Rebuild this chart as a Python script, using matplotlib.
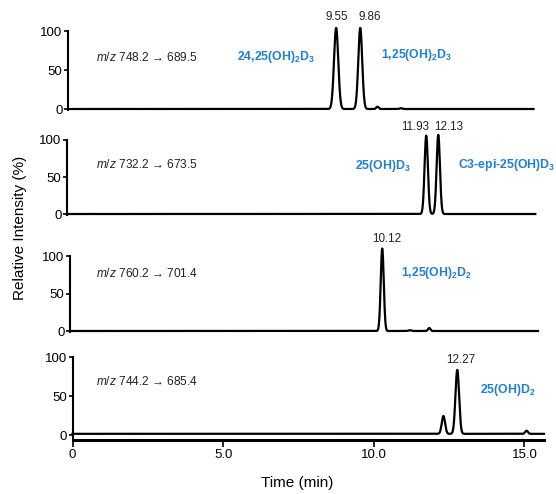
import numpy as np
import matplotlib
matplotlib.use("Agg")
import matplotlib.pyplot as plt

plt.rcParams['font.family'] = ['Liberation Sans', 'DejaVu Sans']
plt.rcParams['mathtext.fontset'] = 'custom'
plt.rcParams['mathtext.rm'] = 'Liberation Sans'
plt.rcParams['mathtext.it'] = 'Liberation Sans:italic'
plt.rcParams['mathtext.bf'] = 'Liberation Sans:bold'

# ---- data ----
transitions = [r"$\it{m/z}$ 748.2 → 689.5", r"$\it{m/z}$ 732.2 → 673.5",
               r"$\it{m/z}$ 760.2 → 701.4", r"$\it{m/z}$ 744.2 → 685.4"]
# peak centres (min, on the common time axis), heights (%), widths (min)
p1_centres = [8.75, 9.55, 10.12, 10.90]
p1_heights = [104, 104, 3, 1]
p1_widths = [0.07, 0.065, 0.04, 0.04]
p2_centres = [11.74, 12.14]
p2_heights = [106, 107]
p2_widths = [0.055, 0.055]
p3_centres = [10.28, 11.84, 11.20]
p3_heights = [110, 4, 1]
p3_widths = [0.05, 0.04, 0.05]
p4_centres = [12.31, 12.77, 15.07]
p4_heights = [23, 82, 4]
p4_widths = [0.055, 0.06, 0.045]
baselines = [0.0, 0.0, 0.0, 1.5]
trace_ends = [15.3, 15.36, 15.45, 15.65]

peak_labels = [["9.55", "9.86"], ["11.93", "12.13"], ["10.12"], ["12.27"]]
compound_labels = [["24,25(OH)$_\\mathbf{2}$D$_\\mathbf{3}$", "1,25(OH)$_\\mathbf{2}$D$_\\mathbf{3}$"],
                   ["25(OH)D$_\\mathbf{3}$", "C3-epi-25(OH)D$_\\mathbf{3}$"],
                   ["1,25(OH)$_\\mathbf{2}$D$_\\mathbf{2}$"],
                   ["25(OH)D$_\\mathbf{2}$"]]
x_ticks = [0, 5, 10, 15]
x_ticklabels = ["0", "5.0", "10.0", "15.0"]
y_ticks = [0, 50, 100]

centres = [p1_centres, p2_centres, p3_centres, p4_centres]
heights = [p1_heights, p2_heights, p3_heights, p4_heights]
widths = [p1_widths, p2_widths, p3_widths, p4_widths]

# ---- layout (pixels) ----
W, H = 556, 494
fig = plt.figure(figsize=(W / 100, H / 100), dpi=100)
x0_px, px_per_min, right_px = 72.5, 30.13, 544
lefts = [68, 67, 70, 72.5]
y100 = [31, 140, 256, 357]
y0 = [109, 214, 331, 435]
ymins = [-1, -1, -1, -7]
blue = "#1f7ed6"

# label positions in pixels
peak_lab_pos = [[(337, 17), (370, 17)], [(415, 127), (449, 127)], [(387, 239)], [(461, 360)]]
comp_lab_pos = [[(237, 57), (381, 55)], [(355, 166), (458, 165)], [(401, 273)], [(480, 390)]]
mz_pos = [(96, 57), (96, 164), (96, 273), (96, 381)]

axes = []
for i in range(4):
    unit = (y0[i] - y100[i]) / 100.0
    bottom_px = y0[i] - ymins[i] * unit
    rect = [lefts[i] / W, 1 - bottom_px / H, (right_px - lefts[i]) / W, (bottom_px - y100[i]) / H]
    ax = fig.add_axes(rect)
    xmin = (lefts[i] - x0_px) / px_per_min
    xmax = (right_px - x0_px) / px_per_min
    ax.set_xlim(xmin, xmax)
    ax.set_ylim(ymins[i], 100)
    ax.patch.set_alpha(0)
    for s in ['top', 'right']:
        ax.spines[s].set_visible(False)
    ax.spines['left'].set_linewidth(1.5)
    ax.set_yticks(y_ticks)
    ax.set_yticklabels([str(v) for v in y_ticks])
    ax.tick_params(axis='y', direction='out', length=3, width=1.2, labelsize=9.5, pad=1)
    if i < 3:
        ax.spines['bottom'].set_visible(False)
        ax.set_xticks([])
    else:
        ax.spines['bottom'].set_linewidth(2.2)
        ax.set_xticks(x_ticks)
        ax.set_xticklabels(x_ticklabels)
        ax.tick_params(axis='x', direction='out', length=5, width=1.2, labelsize=9.5, pad=1)

    t = np.linspace(xmin, trace_ends[i], 4000)
    y = np.full_like(t, baselines[i])
    for c, h, w in zip(centres[i], heights[i], widths[i]):
        y = y + h * np.exp(-0.5 * ((t - c) / w) ** 2)
    ax.plot(t, y, color='black', lw=1.6, clip_on=False, solid_joinstyle='round')
    axes.append(ax)

fig.canvas.draw()
for i, ax in enumerate(axes):
    inv = ax.transData.inverted()
    for (px, py), lab in zip(peak_lab_pos[i], peak_labels[i]):
        xd, yd = inv.transform((px, H - py))
        ax.text(xd, yd, lab, ha='center', va='center', fontsize=8.4, color='#222222', clip_on=False)
    for (px, py), lab in zip(comp_lab_pos[i], compound_labels[i]):
        xd, yd = inv.transform((px, H - py))
        ax.text(xd, yd, lab, ha='left', va='center', fontsize=8.8, fontweight='bold', color=blue, clip_on=False)
    px, py = mz_pos[i]
    xd, yd = inv.transform((px, H - py))
    ax.text(xd, yd, transitions[i], ha='left', va='center', fontsize=8.6, color='#222222', clip_on=False)

fig.text(20 / W, 1 - 228 / H, "Relative Intensity (%)", rotation=90, ha='center', va='center', fontsize=11)
fig.text(297 / W, 1 - 483 / H, "Time (min)", ha='center', va='center', fontsize=11)

fig.savefig("out.png", dpi=100)
